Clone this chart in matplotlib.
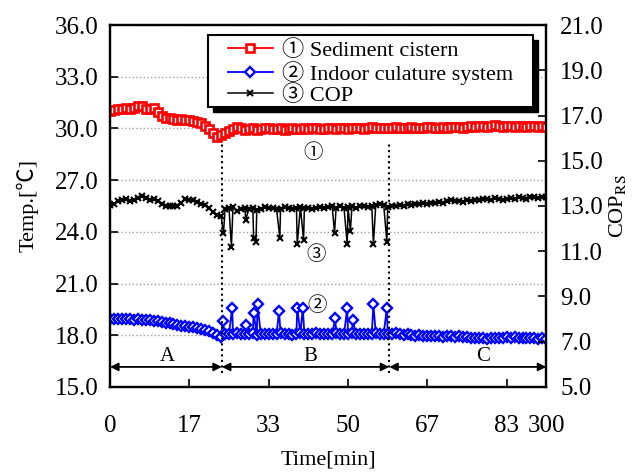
import numpy as np
import matplotlib
matplotlib.use("Agg")
import matplotlib.pyplot as plt
from matplotlib.patches import Rectangle

plt.rcParams['font.family'] = ['Liberation Serif', 'Noto Sans CJK JP', 'DejaVu Sans']
plt.rcParams['mathtext.fontset'] = 'stix'

# sample index grid (every 5 samples)
x_base = np.arange(0, 551, 5)

sediment = [31.00, 31.05, 31.10, 31.15, 31.20, 31.10, 31.20, 31.30, 31.30, 31.15,
            31.10, 31.20, 30.95, 30.75, 30.62, 30.58, 30.55, 30.50, 30.52, 30.48,
            30.47, 30.45, 30.40, 30.30, 30.15, 29.95, 29.72, 29.50, 29.60, 29.72,
            29.85, 29.97, 30.10, 30.02, 29.92, 29.95, 30.00, 29.90, 29.95, 30.00,
            30.05, 29.98, 29.95, 30.00, 29.92, 29.98, 30.02, 29.95, 29.97, 30.03,
            29.95, 30.00, 30.05, 29.98, 29.95, 30.02, 30.05, 29.97, 30.00, 30.04,
            29.98, 30.02, 30.05, 30.00, 29.98, 30.03, 30.06, 30.00, 30.02, 30.05,
            30.00, 30.04, 30.06, 30.02, 30.00, 30.05, 30.07, 30.03, 30.05, 30.02,
            30.06, 30.08, 30.04, 30.03, 30.07, 30.05, 30.08, 30.10, 30.06, 30.04,
            30.08, 30.12, 30.10, 30.15, 30.12, 30.10, 30.14, 30.18, 30.12, 30.10,
            30.15, 30.12, 30.10, 30.14, 30.12, 30.08, 30.12, 30.15, 30.10, 30.12,
            30.10]

indoor = [18.95, 18.95, 18.93, 18.95, 18.92, 18.93, 18.90, 18.92, 18.88, 18.90,
          18.87, 18.85, 18.82, 18.78, 18.72, 18.70, 18.65, 18.60, 18.55, 18.52,
          18.48, 18.45, 18.40, 18.35, 18.28, 18.22, 18.12, 18.02, 17.92, 18.05,
          18.08, 18.05, 18.10, 18.05, 18.08, 18.06, 18.10, 18.04, 18.07, 18.05,
          18.08, 18.05, 18.07, 18.10, 18.05, 18.08, 18.04, 18.07, 18.10, 18.06,
          18.05, 18.08, 18.10, 18.06, 18.05, 18.08, 18.07, 18.10, 18.06, 18.05,
          18.08, 18.10, 18.06, 18.08, 18.05, 18.09, 18.07, 18.10, 18.06, 18.08,
          18.07, 18.05, 18.10, 18.06, 18.04, 18.05, 18.02, 17.98, 18.00, 17.97,
          17.95, 17.98, 17.94, 17.96, 17.92, 17.95, 17.93, 17.90, 17.94, 17.92,
          17.90, 17.86, 17.84, 17.82, 17.85, 17.80, 17.83, 17.86, 17.82, 17.85,
          17.88, 17.85, 17.88, 17.84, 17.86, 17.82, 17.85, 17.83, 17.80, 17.82,
          17.80]
indoor_spike_x = [142, 154, 171, 181, 186, 213, 236, 243, 284, 299, 306, 332, 349]
indoor_spike_y = [18.8, 19.6, 18.6, 19.3, 19.8, 19.4, 19.6, 19.6, 19.0, 19.6, 18.9, 19.8, 19.6]

cop = [13.05, 13.10, 13.20, 13.25, 13.30, 13.22, 13.28, 13.35, 13.45, 13.35,
       13.28, 13.30, 13.22, 13.10, 13.02, 13.00, 13.00, 13.02, 13.15, 13.30,
       13.28, 13.25, 13.18, 13.10, 13.05, 12.90, 12.72, 12.60, 12.55, 12.85,
       12.90, 12.95, 12.80, 12.88, 12.92, 12.85, 12.90, 12.82, 12.88, 12.95,
       12.90, 12.92, 12.85, 12.88, 12.95, 12.90, 12.86, 12.92, 12.95, 12.90,
       12.93, 12.88, 12.92, 12.95, 12.90, 12.95, 13.00, 12.92, 12.98, 12.90,
       12.95, 13.00, 12.93, 12.98, 13.02, 12.95, 13.00, 13.05, 13.10, 13.05,
       12.95, 13.00, 13.02, 13.05, 13.00, 13.08, 13.05, 13.10, 13.08, 13.12,
       13.10, 13.15, 13.12, 13.18, 13.15, 13.20, 13.25, 13.20, 13.22, 13.18,
       13.25, 13.22, 13.28, 13.25, 13.30, 13.32, 13.28, 13.35, 13.30, 13.28,
       13.32, 13.35, 13.30, 13.38, 13.35, 13.32, 13.38, 13.40, 13.35, 13.38,
       13.40]
cop_spike_x = [143, 153, 171, 181, 184, 214, 236, 244, 283, 299, 303, 332, 349]
cop_spike_y = [11.8, 11.2, 12.4, 11.6, 11.4, 11.6, 11.3, 11.5, 11.8, 11.3, 11.9, 11.3, 11.4]

tick_pos = [0, 100, 200, 300, 400, 500, 550]
tick_labels = ['0', '17', '33', '50', '67', '83', '300']

phase_edges = [0, 141, 352, 550]
phase_names = ['A', 'B', 'C']
phase_label_x = [72, 252, 470]


def merge(xb, yb, xs, ys):
    x = np.concatenate([xb, xs])
    y = np.concatenate([yb, ys])
    order = np.argsort(x, kind='stable')
    return x[order], y[order]


x_in, y_in = merge(x_base, indoor, indoor_spike_x, indoor_spike_y)
x_cop, y_cop = merge(x_base, cop, cop_spike_x, cop_spike_y)

fig = plt.figure(figsize=(6.36, 4.73), dpi=100)
ax = fig.add_axes([0.173, 0.182, 0.686, 0.765])
ax2 = ax.twinx()

l1, = ax.plot(x_base, sediment, color='red', lw=1.3, marker='s', ms=5.5,
              mfc='white', mec='red', mew=1.9, label='① Sediment cistern')
l2, = ax.plot(x_in, y_in, color='blue', lw=1.3, marker='D', ms=5,
              mfc='white', mec='blue', mew=1.7, label='② Indoor culature system')
l3, = ax2.plot(x_cop, y_cop, color='black', lw=1.1, marker='x', ms=4.5,
               mew=1.5, label='③ COP')

ax.set_xlim(0, 550)
ax.set_ylim(15, 36)
ax.set_yticks(np.arange(15, 36.1, 3))
ax.set_yticklabels([f'{v:.1f}' for v in np.arange(15, 36.1, 3)])
ax2.set_ylim(5, 21)
ax2.set_yticks(np.arange(5, 21.1, 2))
ax2.set_yticklabels([f'{v:.1f}' for v in np.arange(5, 21.1, 2)])
ax.set_xticks(tick_pos)
ax.set_xticklabels(tick_labels)

ax.grid(axis='y', color='#a0a0a0', ls=':', lw=1)
ax.tick_params(axis='both', direction='in', length=6, width=1.2, labelsize=18)
ax.tick_params(axis='x', pad=20)
ax.tick_params(axis='y', pad=8)
ax2.tick_params(axis='y', direction='in', length=6, width=1.2, labelsize=18, pad=10)
for a in (ax, ax2):
    for s in a.spines.values():
        s.set_linewidth(1.6)

ax.set_xlabel('Time[min]', fontsize=16, labelpad=10)
ax.set_ylabel('Temp.[℃]', fontsize=16, labelpad=12)
ax2.set_ylabel('COP$_{\\rm RS}$', fontsize=16, labelpad=2)

# phase boundaries and arrows
ax.vlines(phase_edges[1:3], 15.8, 29.1, colors='black', linestyles=':', lw=1.5)
for i in range(3):
    ax.annotate('', xy=(phase_edges[i + 1], 16.16), xytext=(phase_edges[i], 16.16),
                arrowprops=dict(arrowstyle='<|-|>', color='black', lw=1.3,
                                mutation_scale=12, shrinkA=0, shrinkB=0))
    ax.text(phase_label_x[i], 16.2, phase_names[i], fontsize=15, ha='center', va='bottom')

ax.text(256, 28.6, '①', fontsize=14, ha='center', va='center')
ax.text(261, 19.7, '②', fontsize=14, ha='center', va='center')
ax.text(260, 22.7, '③', fontsize=14, ha='center', va='center')

# legend frame with a solid black shadow, drawn by hand
box = (0.225, 0.773, 0.745, 0.199)
ax2.add_patch(Rectangle((box[0] + 0.011, box[1] - 0.014), box[2], box[3],
                        transform=ax2.transAxes, facecolor='black', edgecolor='black',
                        zorder=4, clip_on=False))
ax2.add_patch(Rectangle(box[:2], box[2], box[3], transform=ax2.transAxes,
                        facecolor='white', edgecolor='black', lw=1.5, zorder=4.5,
                        clip_on=False))
leg = ax2.legend(handles=[l1, l2, l3], loc='upper left', bbox_to_anchor=(0.271, 0.958),
                 borderaxespad=0, fontsize=16, frameon=False, handlelength=2.0,
                 handletextpad=0.4, labelspacing=0.0, borderpad=0)
leg.set_zorder(5)

fig.savefig('out.png', dpi=100)
